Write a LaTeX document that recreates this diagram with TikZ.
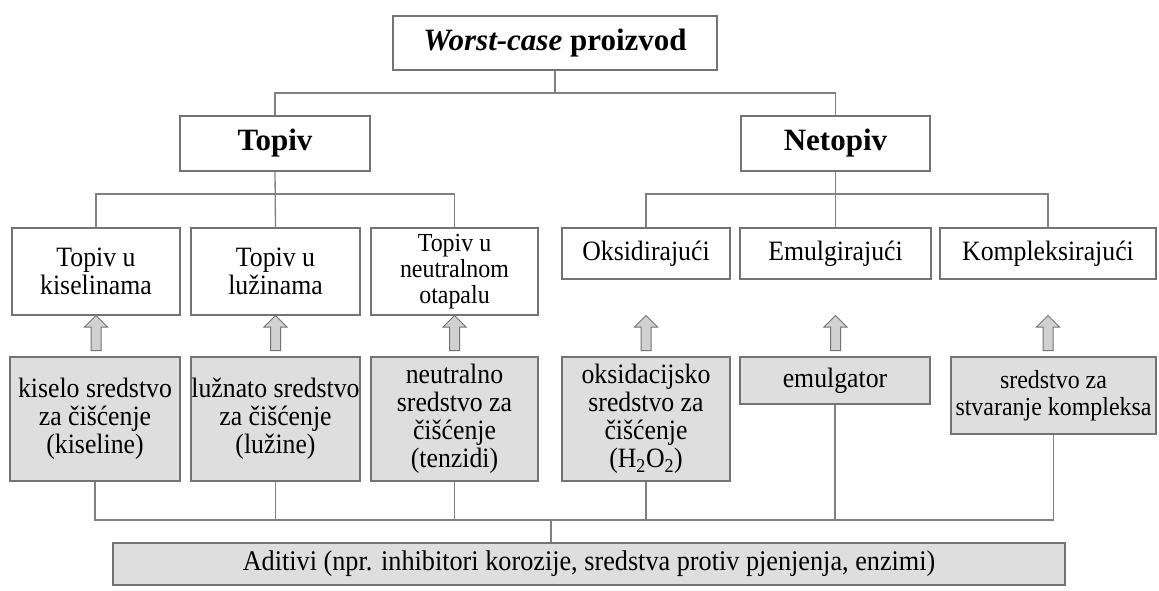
\documentclass[tikz,border=0pt]{standalone}
\usepackage{fontspec}
\setmainfont{Liberation Serif}[FakeStretch=0.92]
\newfontfamily\headfont{Liberation Serif}
\usetikzlibrary{shapes.arrows}

\begin{document}
\begin{tikzpicture}[x=1pt,y=-1pt,box/.style={draw=black!55, line width=1.3pt, align=center, inner sep=0pt, font=\fontsize{28}{28}\selectfont},shaded/.style={box, fill=black!13},head/.style={box, font=\headfont\bfseries\fontsize{31}{32}\selectfont},link/.style={draw=black!50, line width=1.3pt},uparrow/.style={single arrow, rotate=90, draw=black!55, fill=black!18, line width=1pt, inner sep=4.5pt, minimum height=35pt, single arrow head extend=6.5pt}]
\useasboundingbox (0,0) rectangle (1159,591);
\node[head, minimum width=324, minimum height=54] (top) at (555,43) {\textit{Worst-case} proizvod};
\node[head, minimum width=190, minimum height=55] (topiv) at (275,143.5) {Topiv};\node[head, minimum width=189, minimum height=55] (netopiv) at (835.5,143.5) {Netopiv};
\node[box, minimum width=168, minimum height=87] (k1) at (96,271.5) {Topiv u\\kiselinama};\node[box, minimum width=169, minimum height=87] (k2) at (275.5,271.5) {Topiv u\\lužinama};\node[box, minimum width=167, minimum height=87, font=\fontsize{26}{26}\selectfont] (k3) at (454.5,271.5) {Topiv u\\neutralnom\\otapalu};
\node[box, minimum width=168, minimum height=51] (k4) at (646,253.5) {Oksidirajući};\node[box, minimum width=191, minimum height=51] (k5) at (835.5,253.5) {Emulgirajući};\node[box, minimum width=216, minimum height=51] (k6) at (1048,253.5) {Kompleksirajući};
\node[shaded, minimum width=170, minimum height=124] (s1) at (95,419) {kiselo sredstvo\\za čišćenje\\(kiseline)};\node[shaded, minimum width=169, minimum height=124] (s2) at (275.5,419) {lužnato sredstvo\\za čišćenje\\(lužine)};\node[shaded, minimum width=167, minimum height=124] (s3) at (454.5,419) {neutralno\\sredstvo za\\čišćenje\\(tenzidi)};
\node[shaded, minimum width=168, minimum height=124] (s4) at (646,419) {oksidacijsko\\sredstvo za\\čišćenje\\(H\textsubscript{2}O\textsubscript{2})};\node[shaded, minimum width=190, minimum height=47] (s5) at (835,380.5) {emulgator};\node[shaded, minimum width=205, minimum height=77, font=\fontsize{26}{27}\selectfont] (s6) at (1053.5,395.5) {sredstvo za\\stvaranje kompleksa};
\node[shaded, minimum width=952, minimum height=42, font=\fontsize{28.5}{28}\selectfont] (ad) at (589,564) {Aditivi (npr. inhibitori korozije, sredstva protiv pjenjenja, enzimi)};
\coordinate (j1) at (555,93);\coordinate (j2) at (275,194);\coordinate (j3) at (835.5,194);\coordinate (j4) at (551,520);\coordinate (ar) at (0,335.5);
\draw[link] (top.south) -- (j1);\draw[link] (topiv.north) |- (j1) -| (netopiv.north);
\draw[link] (topiv.south) -- (k2.north);\draw[link] (k1.north) |- (j2) -| (k3.north);
\draw[link] (netopiv.south) -- (k5.north);\draw[link] (k4.north) |- (j3) -| (k6.north);
\foreach \k [count=\i] in {k1,k2,k3,k4,k5,k6}\node[uparrow] (a\i) at (\k |- ar) {};
\draw[link] (s1.south) |- (j4) -| (s6.south);\foreach \s in {s2,s3,s4,s5}\draw[link] (\s.south) -- (\s.south |- j4);\draw[link] (j4) -- (j4 |- ad.north);
\end{tikzpicture}
\end{document}
